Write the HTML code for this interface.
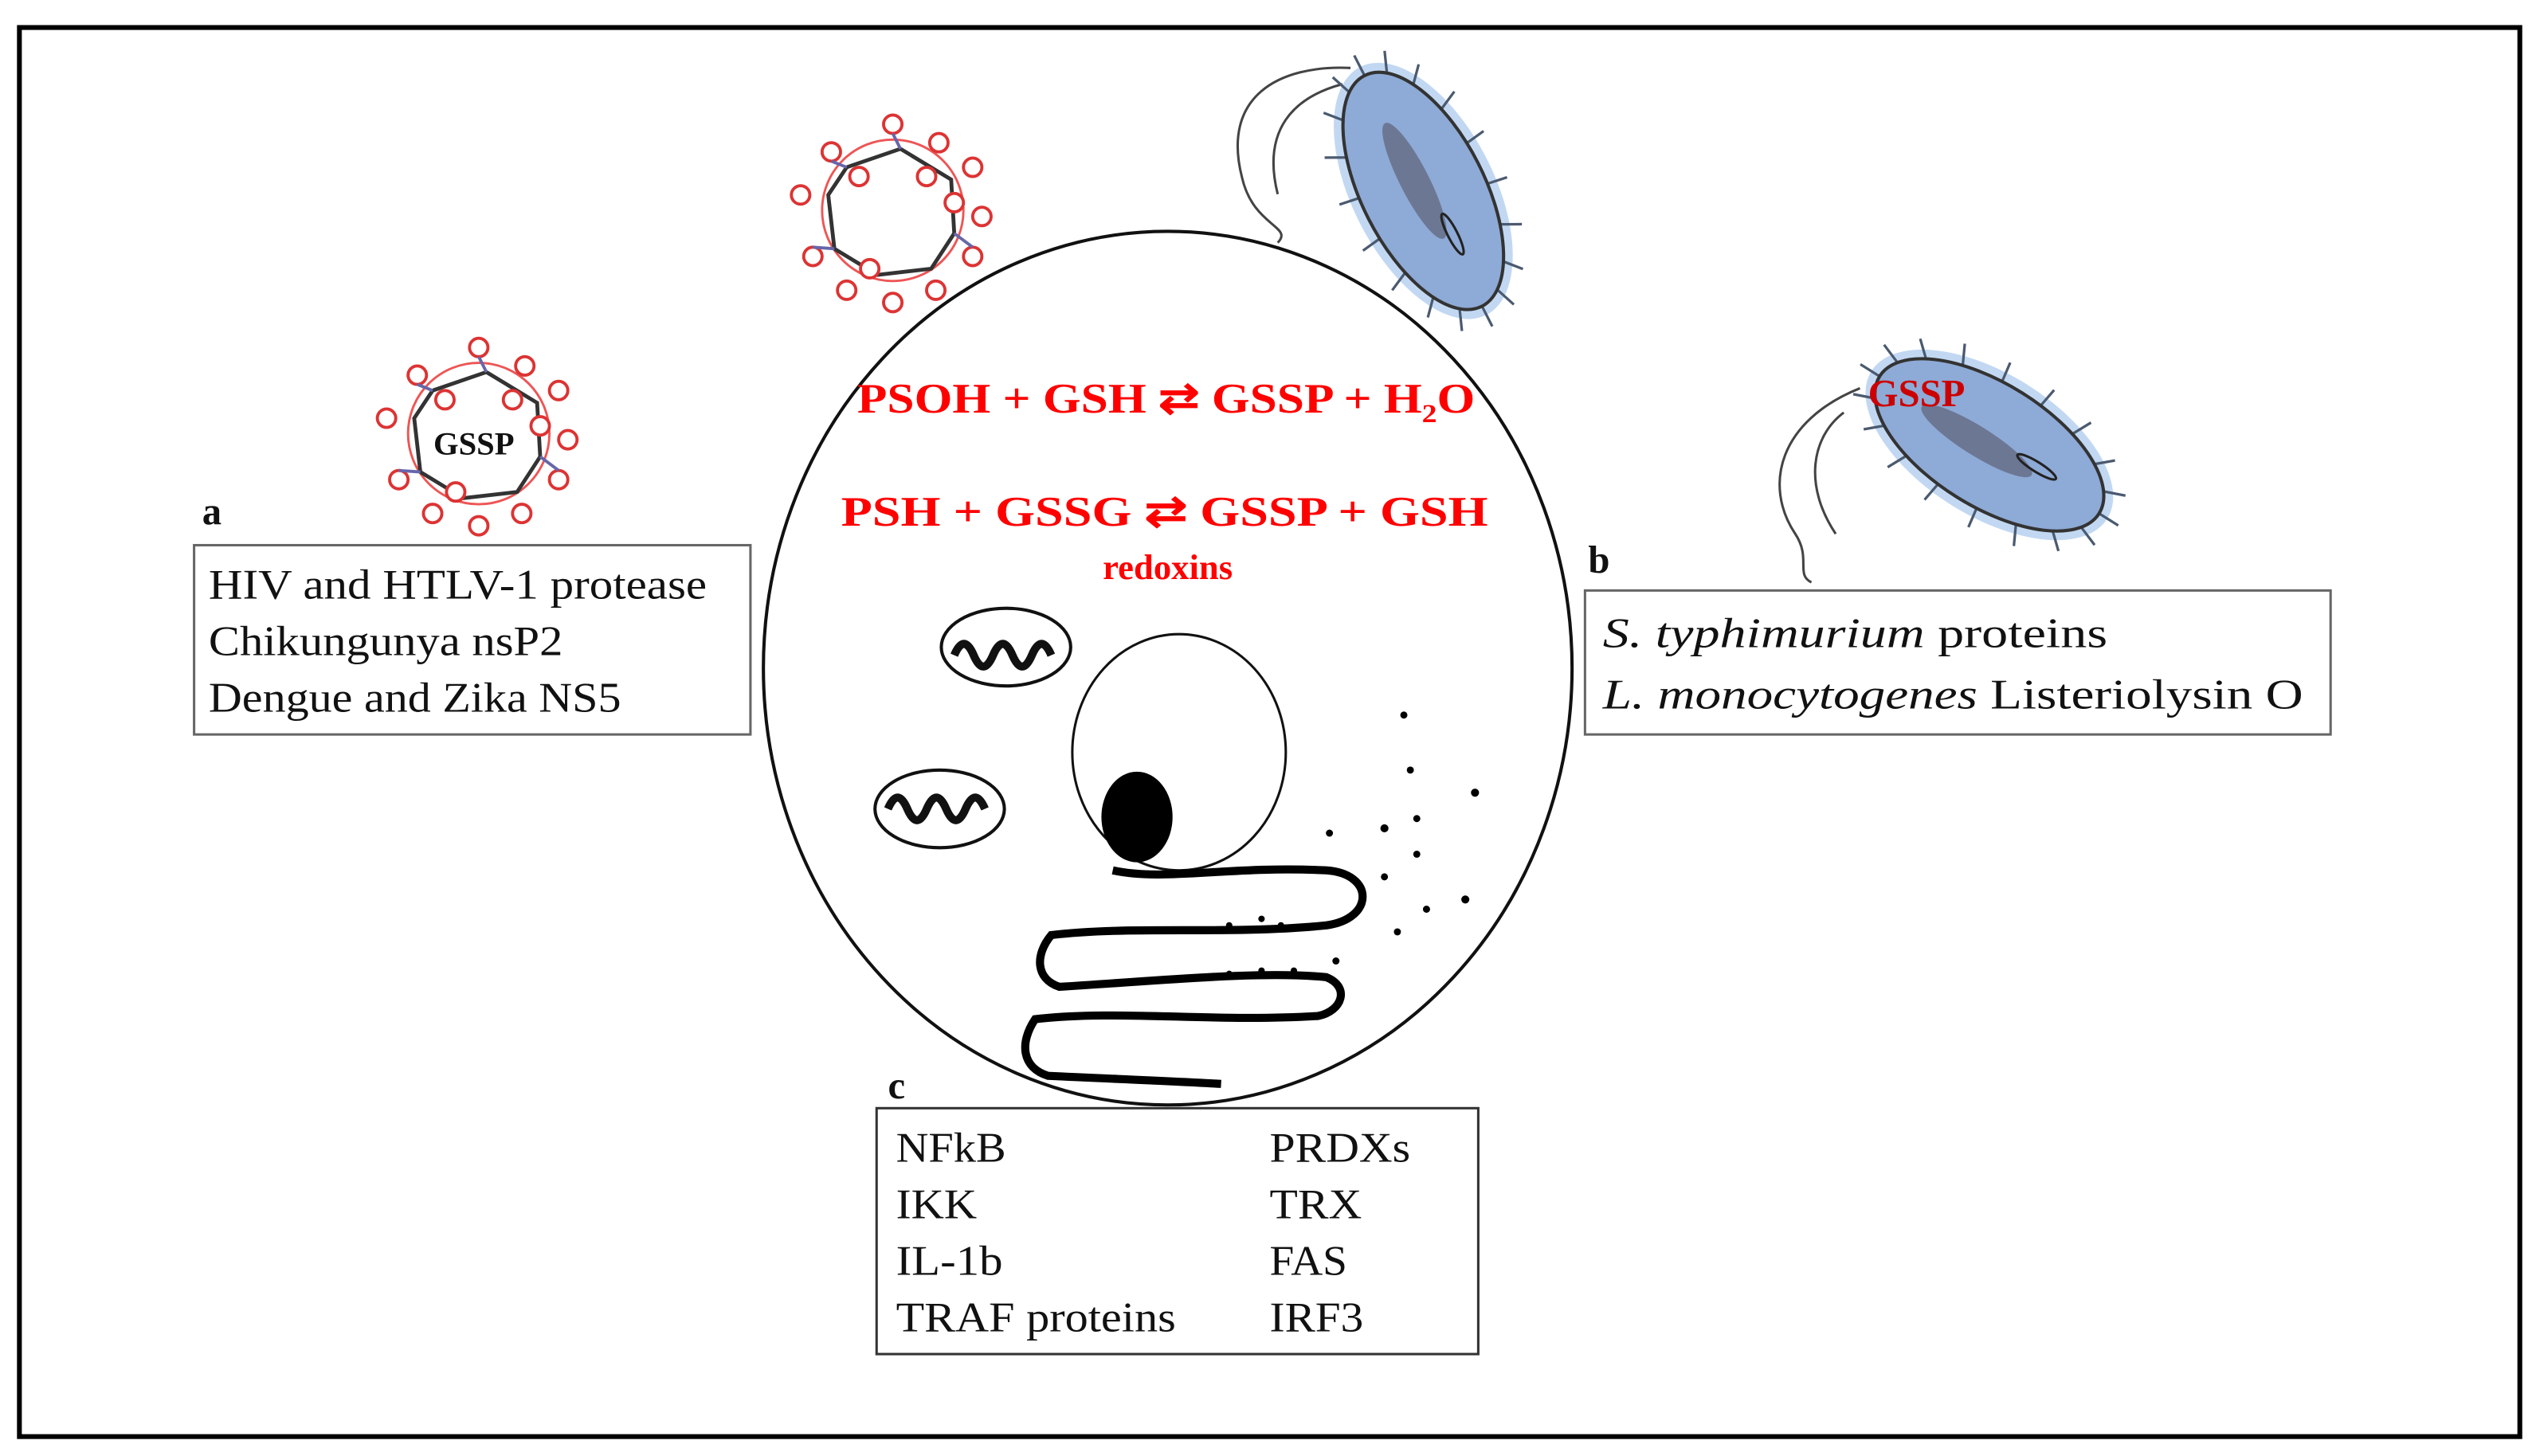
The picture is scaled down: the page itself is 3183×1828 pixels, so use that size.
<!DOCTYPE html>
<html><head><meta charset="utf-8"><style>
html,body{margin:0;padding:0;background:#fff;}
svg{display:block;}
.r{font-family:"Liberation Serif",serif;font-weight:bold;fill:#f00;}
.t{font-family:"Liberation Serif",serif;fill:#111;font-size:26px;}
.l{font-family:"Liberation Serif",serif;font-weight:bold;fill:#111;font-size:24px;}
</style></head><body>
<svg width="3183" height="1828" viewBox="0 0 1568 900" preserveAspectRatio="none" xmlns="http://www.w3.org/2000/svg">
<defs>
<g id="virus">
 <circle cx="0" cy="0" r="46" fill="none" stroke="#e55" stroke-width="1.5"/>
 <polygon points="-30,-28 5,-40 38,-20 40,15 25,38 -10,42 -38,25 -42,-10" fill="none" stroke="#333" stroke-width="2.5"/>
 <g fill="#fff" stroke="#d33" stroke-width="2">
  <circle cx="0" cy="-56" r="6"/><circle cx="-40" cy="-38" r="6"/><circle cx="30" cy="-44" r="6"/>
  <circle cx="52" cy="-28" r="6"/><circle cx="58" cy="4" r="6"/><circle cx="52" cy="30" r="6"/>
  <circle cx="28" cy="52" r="6"/><circle cx="0" cy="60" r="6"/><circle cx="-30" cy="52" r="6"/>
  <circle cx="-52" cy="30" r="6"/><circle cx="-60" cy="-10" r="6"/><circle cx="-22" cy="-22" r="6"/>
  <circle cx="22" cy="-22" r="6"/><circle cx="-15" cy="38" r="6"/><circle cx="40" cy="-5" r="6"/>
 </g>
 <g stroke="#66a" stroke-width="2">
  <line x1="0" y1="-50" x2="5" y2="-40"/><line x1="-40" y1="-32" x2="-30" y2="-28"/><line x1="52" y1="24" x2="40" y2="15"/><line x1="-52" y1="24" x2="-38" y2="25"/>
 </g>
</g>
<g id="bact">
 <ellipse cx="0" cy="0" rx="86" ry="44" fill="#a8c8ec" opacity="0.7"/>
 <g stroke="#4a5a70" stroke-width="1.6">
  <line x1="80" y1="0" x2="94" y2="0"/><line x1="75" y1="13" x2="88" y2="18"/><line x1="61" y1="24" x2="71" y2="33"/><line x1="40" y1="33" x2="46" y2="45"/><line x1="14" y1="37" x2="16" y2="50"/><line x1="-14" y1="37" x2="-16" y2="50"/><line x1="-40" y1="33" x2="-46" y2="45"/><line x1="-61" y1="24" x2="-71" y2="33"/><line x1="-75" y1="13" x2="-88" y2="18"/><line x1="-80" y1="0" x2="-94" y2="0"/>
  <line x1="75" y1="-13" x2="88" y2="-18"/><line x1="61" y1="-24" x2="71" y2="-33"/><line x1="40" y1="-33" x2="46" y2="-45"/><line x1="14" y1="-37" x2="16" y2="-50"/><line x1="-14" y1="-37" x2="-16" y2="-50"/><line x1="-40" y1="-33" x2="-46" y2="-45"/><line x1="-61" y1="-24" x2="-71" y2="-33"/><line x1="-75" y1="-13" x2="-88" y2="-18"/>
 </g>
 <ellipse cx="0" cy="0" rx="80" ry="38" fill="#8eaad6" stroke="#333" stroke-width="2"/>
 <ellipse cx="-8" cy="2" rx="40" ry="9" fill="#556" opacity="0.6"/>
 <ellipse cx="32" cy="-4" rx="14" ry="3" fill="none" stroke="#222" stroke-width="1.5"/>
</g>
</defs>
<rect x="12" y="17" width="1546" height="871" fill="#fff" stroke="#000" stroke-width="3"/>
<ellipse cx="722" cy="413" rx="250" ry="270" fill="#fff" stroke="#111" stroke-width="2"/>
<use href="#virus" transform="translate(296,268) scale(0.95)"/>
<use href="#virus" transform="translate(552,130) scale(0.95)"/>
<text x="268" y="281" font-family="Liberation Serif,serif" font-weight="bold" font-size="20" fill="#111">GSSP</text>
<path d="M835,42 C790,40 755,60 768,110 C775,140 800,140 790,150 M830,52 C800,60 780,80 790,120" fill="none" stroke="#444" stroke-width="1.5"/>
<use href="#bact" transform="translate(880,118) rotate(63)"/>
<path d="M1150,240 C1100,260 1090,300 1110,330 C1120,345 1110,355 1120,360 M1140,255 C1120,270 1115,300 1135,330" fill="none" stroke="#444" stroke-width="1.5"/>
<use href="#bact" transform="translate(1230,275) rotate(32)"/>
<text x="1155" y="251" font-family="Liberation Serif,serif" font-weight="bold" font-size="24" fill="#c00">GSSP</text>
<text class="r" x="530" y="255" font-size="26" textLength="382" lengthAdjust="spacingAndGlyphs">PSOH + GSH  ⇄  GSSP + H<tspan font-size="16" dy="6">2</tspan><tspan dy="-6">O</tspan></text>
<text class="r" x="520" y="325" font-size="26" textLength="400" lengthAdjust="spacingAndGlyphs">PSH  +  GSSG   ⇄  GSSP + GSH</text>
<text class="r" x="722" y="358" font-size="22" text-anchor="middle">redoxins</text>
<ellipse cx="622" cy="400" rx="40" ry="24" fill="#fff" stroke="#111" stroke-width="2"/>
<path d="M590,405 q6,-14 12,0 t12,0 t12,0 t12,0 t12,0" fill="none" stroke="#111" stroke-width="5"/>
<ellipse cx="581" cy="500" rx="40" ry="24" fill="#fff" stroke="#111" stroke-width="2"/>
<path d="M549,500 q6,-14 12,0 t12,0 t12,0 t12,0 t12,0" fill="none" stroke="#111" stroke-width="5"/>
<ellipse cx="729" cy="465" rx="66" ry="73" fill="#fff" stroke="#111" stroke-width="1.5"/>
<ellipse cx="703" cy="505" rx="22" ry="28" fill="#000"/>
<path d="M688,538 C720,545 760,535 820,538 C850,540 850,568 820,572 C760,578 700,572 650,578 C640,590 640,605 655,610 C720,606 780,600 820,604 C835,610 830,625 815,628 C750,632 690,624 640,630 C630,645 632,660 648,665 C690,667 720,668 755,670" fill="none" stroke="#000" stroke-width="5"/>
<g fill="#000">
<circle cx="868" cy="442" r="2.2"/><circle cx="872" cy="476" r="2.2"/><circle cx="912" cy="490" r="2.5"/><circle cx="876" cy="506" r="2.2"/><circle cx="856" cy="512" r="2.5"/><circle cx="822" cy="515" r="2.2"/><circle cx="876" cy="528" r="2.2"/><circle cx="856" cy="542" r="2.2"/><circle cx="906" cy="556" r="2.5"/><circle cx="882" cy="562" r="2.2"/><circle cx="864" cy="576" r="2.2"/><circle cx="826" cy="594" r="2.2"/><circle cx="760" cy="572" r="2"/><circle cx="780" cy="568" r="2"/><circle cx="792" cy="572" r="2"/><circle cx="760" cy="602" r="2"/><circle cx="780" cy="600" r="2"/><circle cx="800" cy="600" r="2"/>
</g>
<text class="l" x="125" y="324">a</text>
<rect x="120" y="337" width="344" height="117" fill="#fff" stroke="#666" stroke-width="1.5"/>
<text class="t" x="129" y="370" textLength="308" lengthAdjust="spacingAndGlyphs">HIV and HTLV-1 protease</text>
<text class="t" x="129" y="405" textLength="219" lengthAdjust="spacingAndGlyphs">Chikungunya nsP2</text>
<text class="t" x="129" y="440" textLength="255" lengthAdjust="spacingAndGlyphs">Dengue and Zika NS5</text>
<text class="l" x="982" y="354">b</text>
<rect x="980" y="365" width="461" height="89" fill="#fff" stroke="#666" stroke-width="1.5"/>
<text class="t" x="991" y="400" textLength="312" lengthAdjust="spacingAndGlyphs"><tspan font-style="italic">S. typhimurium</tspan> proteins</text>
<text class="t" x="991" y="438" textLength="433" lengthAdjust="spacingAndGlyphs"><tspan font-style="italic">L. monocytogenes</tspan> Listeriolysin O</text>
<text class="l" x="549" y="679">c</text>
<rect x="542" y="685" width="372" height="152" fill="#fff" stroke="#333" stroke-width="1.5"/>
<text class="t" x="554" y="718" textLength="68" lengthAdjust="spacingAndGlyphs">NFkB</text><text class="t" x="785" y="718" textLength="87" lengthAdjust="spacingAndGlyphs">PRDXs</text>
<text class="t" x="554" y="753" textLength="50" lengthAdjust="spacingAndGlyphs">IKK</text><text class="t" x="785" y="753" textLength="57" lengthAdjust="spacingAndGlyphs">TRX</text>
<text class="t" x="554" y="788" textLength="66" lengthAdjust="spacingAndGlyphs">IL-1b</text><text class="t" x="785" y="788" textLength="48" lengthAdjust="spacingAndGlyphs">FAS</text>
<text class="t" x="554" y="823" textLength="173" lengthAdjust="spacingAndGlyphs">TRAF proteins</text><text class="t" x="785" y="823" textLength="58" lengthAdjust="spacingAndGlyphs">IRF3</text>
</svg>
</body></html>
